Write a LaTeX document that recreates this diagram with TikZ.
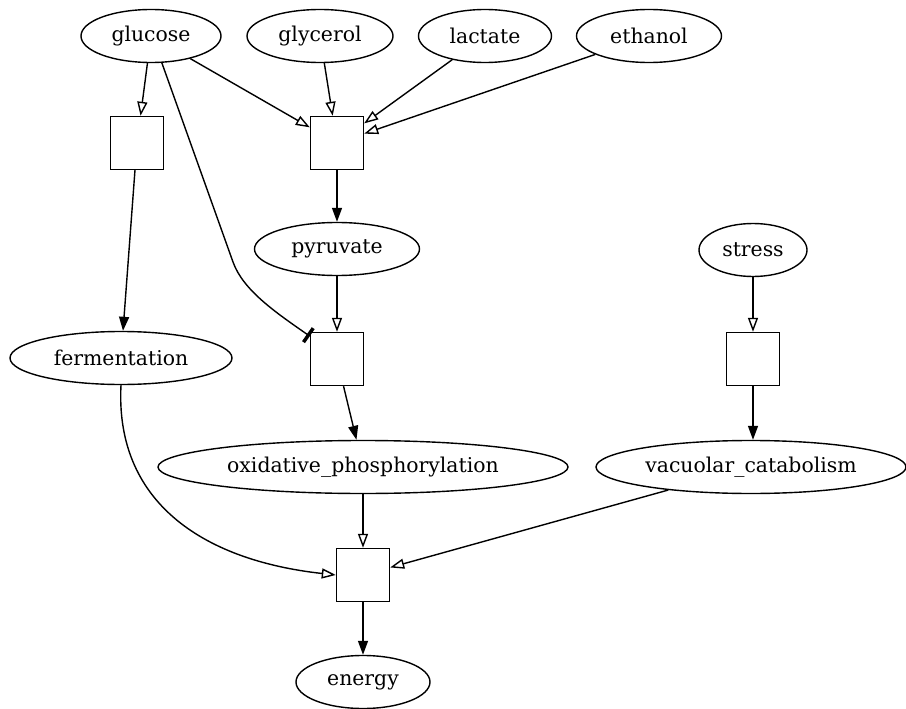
\documentclass[tikz,border=0pt]{standalone}
\usepackage{fontspec}
\setmainfont{DejaVu Serif}
\usepackage{tikz}
\usetikzlibrary{shapes.geometric}
\usetikzlibrary{arrows.meta}
\tikzset{
    mynode/.style = {ellipse, draw=black, line width=1.4pt, align=center, inner sep=0pt, minimum height=53pt},
    mybox/.style = {rectangle, draw=black, line width=1.4pt, inner sep=0pt, minimum width=53pt, minimum height=53pt},
}
\begin{document}
\begin{tikzpicture}[
	x=1pt, y=-1pt,
	line width=1.4pt,
	font=\fontsize{20.4}{24}\selectfont
]
\tikzset{
    edgeo/.style = {-{Triangle[open,length=14pt,width=10pt]}},
    edgef/.style = {-{Triangle[length=14pt,width=10pt]}},
    edget/.style = {-{Bar[width=17pt,line width=3.5pt]}},
}
\useasboundingbox (0,0) rectangle (906,709);
\node[mynode, minimum width=140pt] at (151,36) (glucose) {glucose};
\node[mynode, minimum width=146pt] at (320,36) (glycerol) {glycerol};
\node[mynode, minimum width=133pt] at (485,36) (lactate) {lactate};
\node[mynode, minimum width=145pt] at (649,36) (ethanol) {ethanol};
\node[mybox] at (137,143) (b1) {};
\node[mybox] at (337,143) (b2) {};
\node[mynode, minimum width=165pt] at (337,249) (pyruvate) {pyruvate};
\node[mynode, minimum width=108pt] at (753,250) (stress) {stress};
\node[mynode, minimum width=222pt] at (121,358) (fermentation) {fermentation};
\node[mybox] at (337,359) (b3) {};
\node[mybox] at (753,359) (b5) {};
\node[mynode, minimum width=410pt] at (363,467) (oxphos) {oxidative\_phosphorylation};
\node[mynode, minimum width=310pt] at (751,467) (vacuolar) {vacuolar\_catabolism};
\node[mybox] at (363,575) (b4) {};
\node[mynode, minimum width=134pt] at (363,682) (energy) {energy};
%
\draw[edgeo] (glucose) edge (b1);
\draw[edgeo] (glucose) edge (b2);
\draw[edgeo] (glycerol) edge (b2);
\draw[edgeo] (lactate) edge (b2);
\draw[edgeo] (ethanol) edge (b2);
%
\draw[edgef] (b2) edge (pyruvate);
\draw[edgef] (b1) edge (fermentation);
\draw[edgeo] (pyruvate) edge (b3);
\draw[edget] (glucose.-68) -- (233,262) .. controls (243,290) and (275,312) .. (b3.140);
\draw[edgef] (b3) edge (oxphos);
%
\draw[edgeo] (stress) edge (b5);
\draw[edgef] (b5) -- (b5 |- vacuolar.north);
%
\draw[edgeo] (oxphos) edge (b4);
\draw[edgeo] (vacuolar) edge (b4);
\draw[edgeo] (fermentation.south) .. controls (115,500) and (200,560) .. (b4.west);
\draw[edgef] (b4) edge (energy);
\end{tikzpicture}
\end{document}
